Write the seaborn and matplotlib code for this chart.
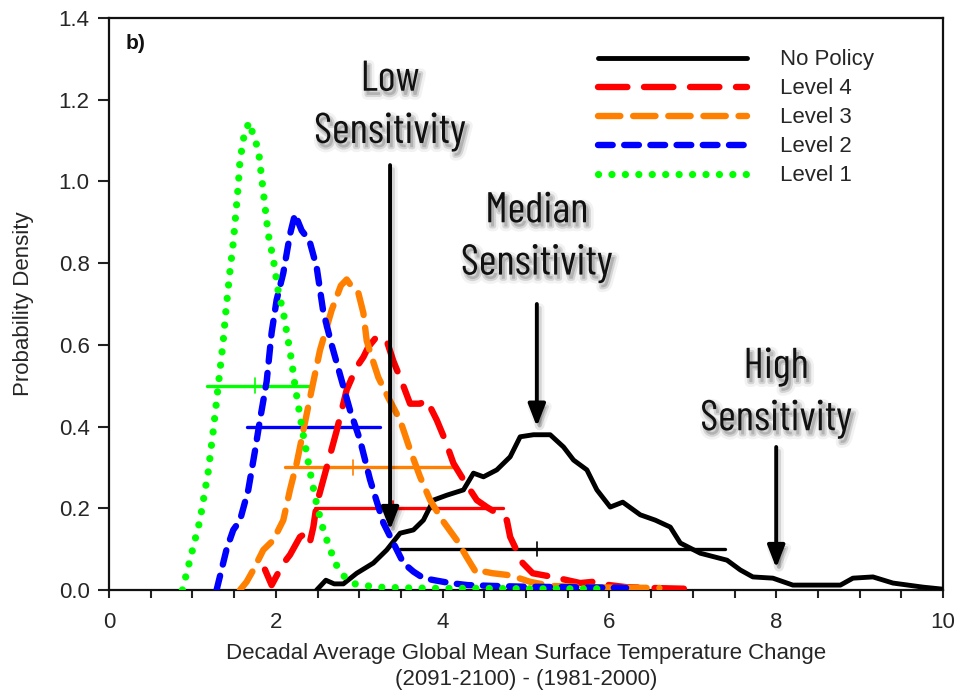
import numpy as np
import pandas as pd
import matplotlib
matplotlib.use("Agg")
import matplotlib.pyplot as plt
import matplotlib.patheffects as pe
import seaborn as sns

# ---------------- data ----------------
series_names = ["No Policy", "Level 4", "Level 3", "Level 2", "Level 1"]
series_colors = ["#000000", "#FF0000", "#FF8000", "#0000FF", "#00FF00"]

x_nopolicy = [2.49, 2.6, 2.7, 2.81, 2.97, 3.17, 3.33, 3.49, 3.65, 3.77, 3.89, 4.05, 4.25, 4.37,
              4.49, 4.65, 4.81, 4.93, 5.09, 5.29, 5.45, 5.57, 5.73, 5.85, 6.01, 6.16, 6.37, 6.55,
              6.73, 6.85, 7.09, 7.41, 7.57, 7.72, 7.96, 8.2, 8.5, 8.77, 8.92, 9.16, 9.4, 9.76, 10.0]
y_nopolicy = [0.0, 0.024, 0.015, 0.015, 0.041, 0.066, 0.098, 0.139, 0.147, 0.171, 0.22, 0.232,
              0.245, 0.286, 0.277, 0.294, 0.326, 0.375, 0.38, 0.38, 0.35, 0.318, 0.294, 0.245,
              0.203, 0.215, 0.184, 0.171, 0.154, 0.115, 0.09, 0.073, 0.049, 0.032, 0.029, 0.012,
              0.012, 0.012, 0.029, 0.032, 0.017, 0.007, 0.002]

x_level4 = [1.87, 1.95, 2.05, 2.11, 2.17, 2.29, 2.37, 2.41, 2.45, 2.49, 2.57, 2.65, 2.73, 2.85,
            2.97, 3.05, 3.11, 3.21, 3.33, 3.41, 3.51, 3.61, 3.73, 3.81, 3.93, 4.03, 4.13, 4.25,
            4.41, 4.53, 4.65, 4.77, 4.81, 4.88, 4.96, 5.08, 5.32, 5.65, 5.8, 6.0, 6.2, 6.5, 6.93]
y_level4 = [0.05, 0.012, 0.05, 0.07, 0.086, 0.13, 0.14, 0.118, 0.154, 0.21, 0.27, 0.33, 0.39,
            0.49, 0.546, 0.57, 0.595, 0.62, 0.61, 0.56, 0.51, 0.456, 0.456, 0.465, 0.416, 0.367,
            0.31, 0.27, 0.22, 0.203, 0.188, 0.171, 0.13, 0.10, 0.066, 0.041, 0.032, 0.017, 0.02,
            0.012, 0.007, 0.005, 0.003]

x_level3 = [1.57, 1.65, 1.73, 1.85, 1.97, 2.09, 2.17, 2.25, 2.33, 2.43, 2.53, 2.67, 2.78, 2.85,
            2.92, 2.99, 3.05, 3.09, 3.15, 3.23, 3.35, 3.49, 3.61, 3.73, 3.85, 4.0, 4.17, 4.29,
            4.41, 4.5, 4.6, 4.77, 4.9, 5.05, 5.3, 5.6, 6.0, 6.6]
y_level3 = [0.0, 0.02, 0.049, 0.098, 0.122, 0.171, 0.245, 0.31, 0.39, 0.49, 0.587, 0.685, 0.745,
            0.76, 0.74, 0.727, 0.678, 0.61, 0.57, 0.52, 0.47, 0.416, 0.343, 0.277, 0.22, 0.17,
            0.122, 0.08, 0.04, 0.045, 0.041, 0.037, 0.03, 0.02, 0.01, 0.008, 0.006, 0.005]

x_level2 = [1.29, 1.35, 1.41, 1.49, 1.57, 1.67, 1.75, 1.81, 1.89, 1.95, 2.01, 2.09, 2.17, 2.23,
            2.31, 2.37, 2.41, 2.49, 2.57, 2.67, 2.78, 2.89, 3.01, 3.13, 3.29, 3.41, 3.53, 3.65,
            3.77, 3.9, 4.09, 4.3, 4.6, 5.0, 5.5, 6.2]
y_level2 = [0.0, 0.05, 0.10, 0.147, 0.17, 0.245, 0.34, 0.416, 0.51, 0.63, 0.71, 0.776, 0.87,
            0.92, 0.88, 0.864, 0.85, 0.79, 0.68, 0.60, 0.52, 0.44, 0.367, 0.27, 0.164, 0.115,
            0.066, 0.045, 0.029, 0.024, 0.017, 0.012, 0.01, 0.008, 0.007, 0.005]

x_level1 = [0.88, 0.97, 1.09, 1.19, 1.25, 1.31, 1.37, 1.40, 1.45, 1.49, 1.52, 1.55, 1.57, 1.63,
            1.69, 1.73, 1.79, 1.83, 1.87, 1.91, 1.97, 2.03, 2.09, 2.19, 2.23, 2.32, 2.41, 2.49,
            2.57, 2.65, 2.73, 2.81, 2.95, 3.2, 3.6, 4.0, 4.5, 5.0, 5.5, 5.9]
y_level1 = [0.0, 0.073, 0.17, 0.29, 0.39, 0.50, 0.61, 0.68, 0.78, 0.85, 0.92, 0.99, 1.05, 1.126,
            1.145, 1.11, 1.08, 1.01, 0.94, 0.87, 0.81, 0.73, 0.68, 0.56, 0.50, 0.39, 0.29, 0.21,
            0.147, 0.10, 0.06, 0.035, 0.015, 0.007, 0.005, 0.004, 0.004, 0.003, 0.003, 0.003]

# 90% range bars with median tick (same order as series_names)
range_lo = [3.49, 2.47, 2.11, 1.65, 1.17]
range_hi = [7.39, 4.73, 4.17, 3.25, 2.45]
range_med = [5.13, 3.40, 2.93, 2.34, 1.75]
range_y = [0.1, 0.2, 0.3, 0.4, 0.5]

annot_lines = [("Low", "Sensitivity"), ("Median", "Sensitivity"), ("High", "Sensitivity")]
annot_x = [3.37, 5.13, 8.0]
annot_text_y = [1.222, 0.90, 0.519]     # baseline of first line
annot_arrow_start = [1.04, 0.70, 0.35]
annot_arrow_end = [0.147, 0.40, 0.054]

x_ticks = [0, 2, 4, 6, 8, 10]
y_ticks = [0.0, 0.2, 0.4, 0.6, 0.8, 1.0, 1.2, 1.4]

# ---------------- styling ----------------
sns.set_style("white")
plt.rcParams["font.family"] = ["Liberation Sans", "DejaVu Sans"]
TXT = "#262626"

fig = plt.figure(figsize=(9.69, 6.92), dpi=100)
ax = fig.add_axes([109 / 969, 1 - 590 / 692, (943 - 109) / 969, (590 - 18) / 692])

# range bars
for lo, hi, med, yy, col in zip(range_lo, range_hi, range_med, range_y, series_colors):
    sns.lineplot(x=[lo, hi], y=[yy, yy], ax=ax, color=col, lw=2.4, estimator=None, zorder=2)
    sns.lineplot(x=[med, med], y=[yy - 0.018, yy + 0.018], ax=ax, color=col, lw=1.2,
                 estimator=None, zorder=2)

curve_x = [x_nopolicy, x_level4, x_level3, x_level2, x_level1]
curve_y = [y_nopolicy, y_level4, y_level3, y_level2, y_level1]
styles = ["-", (0, (4.6, 2.6)), (0, (3.5, 2.0)), (0, (2.3, 1.8)), (0, (0.01, 1.85))]
widths = [3.5, 4.6, 4.6, 4.6, 5.2]
handles = []
for i, (xs, ys, col, ls, w, name) in enumerate(zip(curve_x, curve_y, series_colors, styles,
                                                 widths, series_names)):
    df = pd.DataFrame({"x": xs, "y": ys})
    sns.lineplot(data=df, x="x", y="y", ax=ax, color=col, lw=w, linestyle=ls,
                 estimator=None, sort=False, zorder=3 + i,
                 dash_capstyle="round", solid_capstyle="round", solid_joinstyle="round")
    handles.append(ax.lines[-1])

ax.set_xlim(0, 10)
ax.set_ylim(0, 1.4)
ax.set_xticks(x_ticks)
ax.set_xticks(np.arange(0, 10.01, 0.5), minor=True)
ax.set_yticks(y_ticks)
ax.set_yticklabels([f"{v:.1f}" for v in y_ticks])
ax.tick_params(axis="both", which="both", direction="out", length=6, width=1.5,
               color="#222222", labelsize=16, labelcolor=TXT, bottom=True, left=True)
ax.tick_params(axis="y", length=8, pad=6)
ax.tick_params(axis="x", pad=10)
for s in ax.spines.values():
    s.set_visible(True)
    s.set_linewidth(1.6)
    s.set_color("#111111")

ax.set_xlabel("Decadal Average Global Mean Surface Temperature Change\n(2091-2100) - (1981-2000)",
              fontsize=16, color=TXT, labelpad=7, linespacing=1.3)
ax.set_ylabel("Probability Density", fontsize=16, color=TXT, labelpad=18)

ax.text(0.02, 0.955, "b)", transform=ax.transAxes, fontsize=15, fontweight="bold",
        color="#111111", va="center", ha="left")

leg = ax.legend(handles, series_names, loc="upper left", bbox_to_anchor=(0.586, 0.945),
                frameon=False, fontsize=16, handlelength=6.7, handletextpad=1.5,
                labelspacing=0.36, borderpad=0, borderaxespad=0)
for t in leg.get_texts():
    t.set_color(TXT)

shadow = [pe.Stroke(offset=(2, -3), linewidth=7, foreground="k", alpha=0.05),
          pe.Stroke(offset=(2, -3), linewidth=3, foreground="k", alpha=0.12),
          pe.Normal()]
afont = ["Barlow Condensed", "PT Sans Narrow", "Carlito", "DejaVu Sans"]
line_gap = 0.128
for (l1, l2), xa, yt, ys, ye in zip(annot_lines, annot_x, annot_text_y, annot_arrow_start,
                                    annot_arrow_end):
    ax.text(xa, yt, l1, fontsize=31, family=afont, ha="center", va="baseline",
            color="#111111", path_effects=shadow, zorder=20)
    ax.text(xa, yt - line_gap, l2, fontsize=31, family=afont, ha="center", va="baseline",
            color="#111111", path_effects=shadow, zorder=20)
    ann = ax.annotate("", xy=(xa, ye), xytext=(xa, ys),
                      arrowprops=dict(arrowstyle="-|>,head_length=0.9,head_width=0.35",
                                      color="black", lw=2.8, mutation_scale=15,
                                      shrinkA=0, shrinkB=0),
                      zorder=20)
    ann.arrow_patch.set_path_effects(shadow)

fig.savefig("out.png", dpi=100)
